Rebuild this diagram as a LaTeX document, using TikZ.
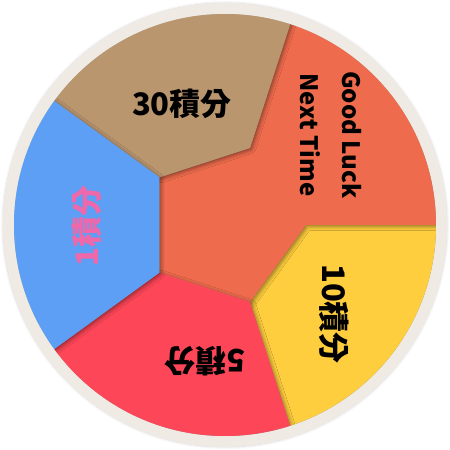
\documentclass[tikz,border=0pt]{standalone}
\usepackage{fontspec}
\usepackage{xcolor}
\usepackage{tikz}
\usetikzlibrary{shadows.blur}
\newfontfamily\cjk{Noto Sans CJK TC}
\definecolor{wheelRing}{RGB}{239,235,228}
\definecolor{wheelBrown}{RGB}{186,150,111}
\definecolor{wheelOrange}{RGB}{238,108,77}
\definecolor{wheelYellow}{RGB}{254,206,62}
\definecolor{wheelRed}{RGB}{253,70,87}
\definecolor{wheelBlue}{RGB}{93,159,245}
\definecolor{wheelPink}{RGB}{238,104,170}

\begin{document}
\begin{tikzpicture}[x=1pt,y=1pt,
    seg/.style={fill=#1, blur shadow={shadow xshift=1.5pt, shadow yshift=-1.5pt,
        shadow blur radius=4pt, shadow opacity=45}},
    lbl/.style={font=\cjk\bfseries\fontsize{31}{31}\selectfont, inner sep=0pt},
    luck/.style={font=\cjk\bfseries\fontsize{24}{42}\selectfont, inner sep=0pt, align=center}]
    \useasboundingbox (-225,-225) rectangle (225,225);
    \pgfmathsetmacro{\Rout}{211}
    \pgfmathsetmacro{\Rin}{81}

    % ring
    \fill[wheelRing, blur shadow={shadow xshift=0pt, shadow yshift=0pt,
        shadow blur radius=2.5pt, shadow opacity=18}] (0,0) circle (222);

    % segments
    \begin{scope}
    \clip (0,0) circle (\Rout);
    \fill[seg=wheelYellow] (288:\Rin) -- (288:\Rout+2)
        arc[start angle=288, end angle=360, radius=\Rout+2] -- (0:\Rin) -- cycle;
    \fill[seg=wheelOrange] (0:\Rin) -- (0:\Rout+2)
        arc[start angle=0, end angle=72, radius=\Rout+2]
        -- (72:\Rin) -- (144:\Rin) -- (216:\Rin) -- (288:\Rin) -- cycle;
    \fill[seg=wheelRed] (216:\Rin) -- (216:\Rout+2)
        arc[start angle=216, end angle=288, radius=\Rout+2] -- (288:\Rin) -- cycle;
    \fill[seg=wheelBrown] (72:\Rin) -- (72:\Rout+2)
        arc[start angle=72, end angle=144, radius=\Rout+2] -- (144:\Rin) -- cycle;
    \fill[seg=wheelBlue] (144:\Rin) -- (144:\Rout+2)
        arc[start angle=144, end angle=216, radius=\Rout+2] -- (216:\Rin) -- cycle;
    \end{scope}

    % labels
    \node[lbl] (lbl30) at (-43,121) {30積分};
    \node[luck, rotate=-90] (lblLuck) at (106,90) {Good Luck\\Next Time};
    \node[lbl, rotate=-90] (lbl10) at (109,-89) {10積分};
    \node[lbl, rotate=180] (lbl5) at (-20,-136) {5積分};
    \node[lbl, rotate=90, text=wheelPink] (lbl1) at (-138,-1) {1積分};
\end{tikzpicture}
\end{document}
